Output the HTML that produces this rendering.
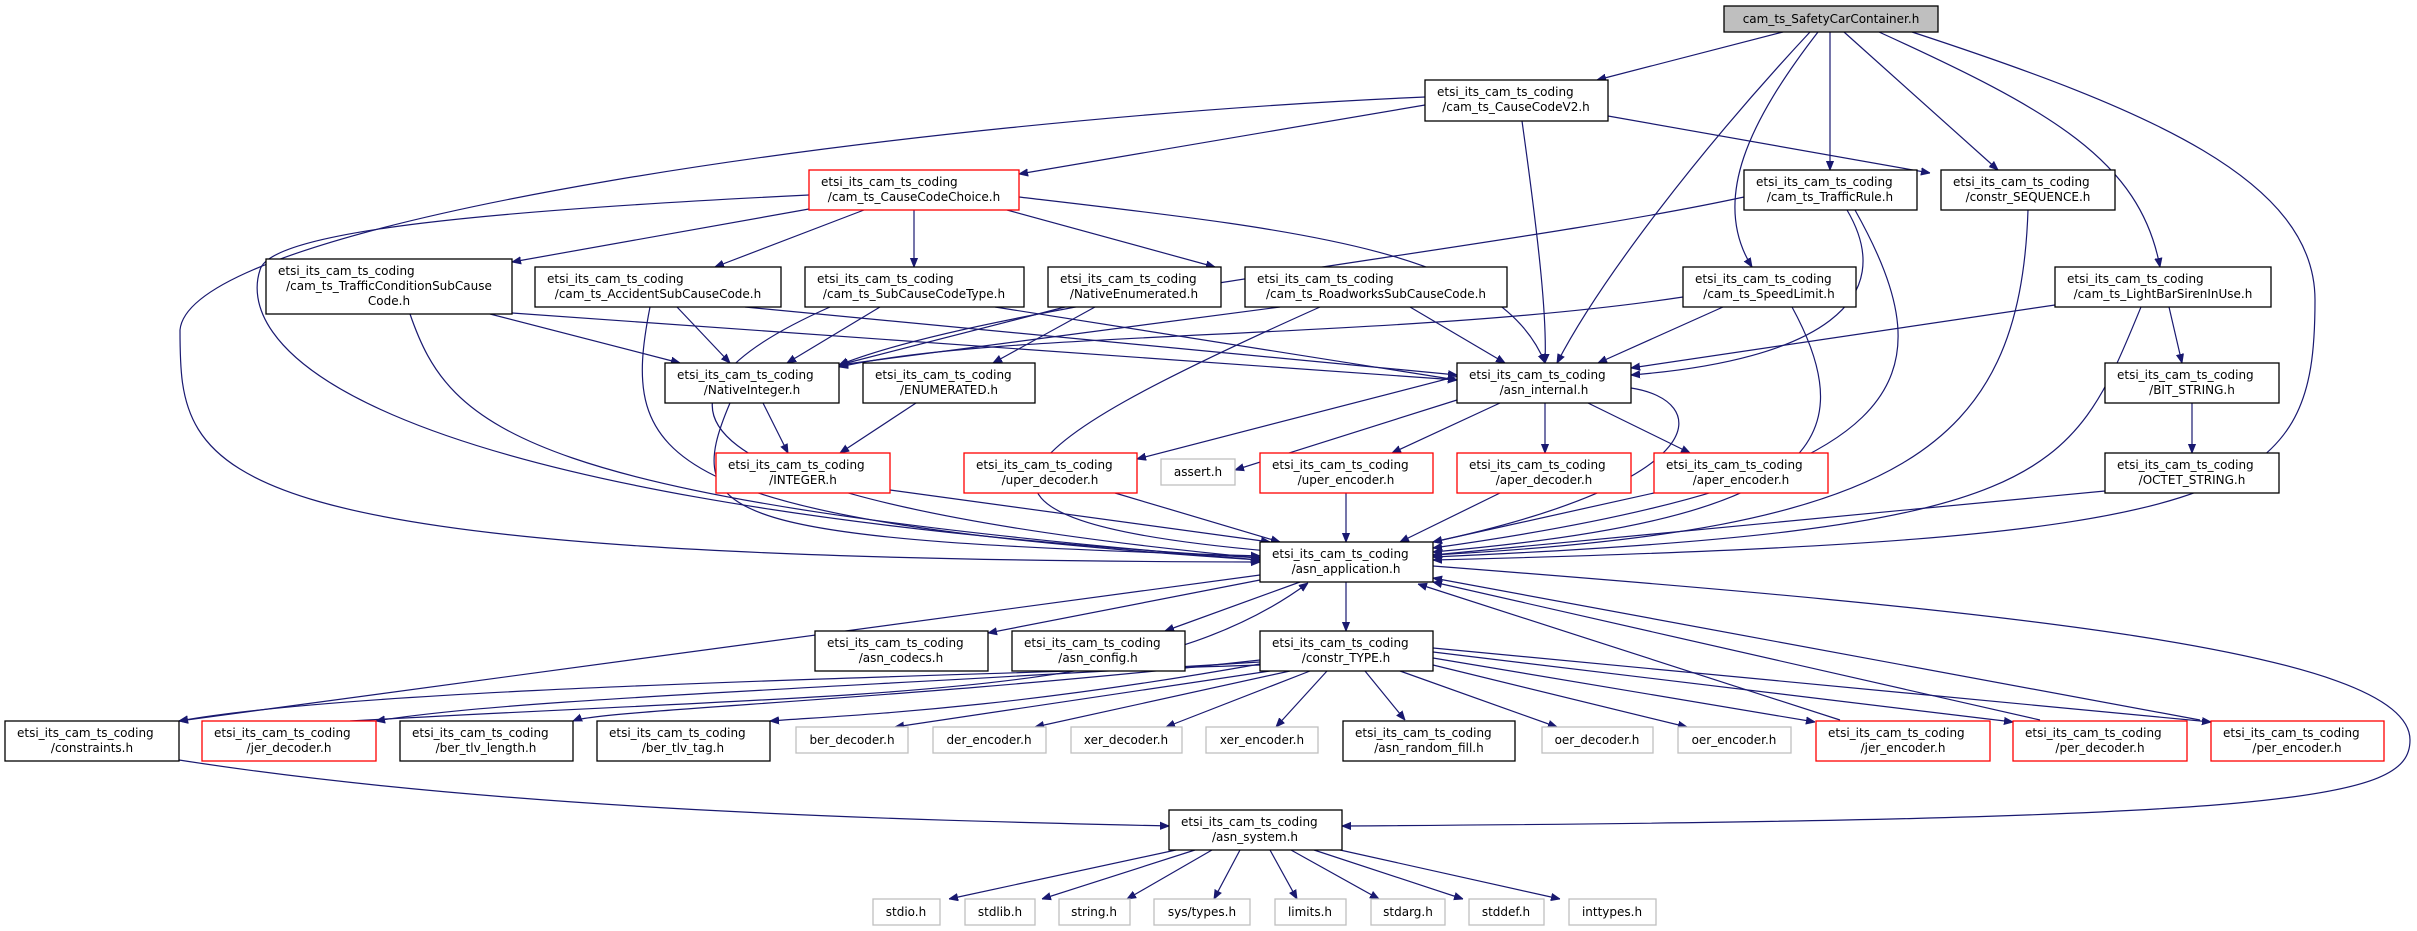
<!DOCTYPE html>
<html><head><meta charset="utf-8"><style>
html,body{margin:0;padding:0;background:#fff;}
svg{display:block;}
text{font-family:"DejaVu Sans","Liberation Sans",sans-serif;font-size:12px;fill:#000;text-anchor:middle;}
text.l{text-anchor:start;}
.b{fill:#fff;stroke:#000;stroke-width:1.3;}
.r{fill:#fff;stroke:#ff0000;stroke-width:1.3;}
.g{fill:#fff;stroke:#bfbfbf;stroke-width:1.3;}
.e path{fill:none;stroke:#191970;stroke-width:1.2;marker-end:url(#a);}
</style></head><body>
<svg width="2417" height="931" viewBox="0 0 2417 931" xmlns="http://www.w3.org/2000/svg">
<defs><marker id="a" viewBox="0 0 10 10" refX="10" refY="5" markerWidth="9" markerHeight="9" markerUnits="userSpaceOnUse" orient="auto"><path d="M0,1 L10,5 L0,9 z" fill="#191970" stroke="#191970"/></marker></defs>
<g class="e">
<path d="M1783,32 L1597,80"/>
<path d="M1810,32 C1700,150 1600,280 1557,363"/>
<path d="M1818,32 C1750,120 1710,200 1752,267"/>
<path d="M1830,32 L1830,170"/>
<path d="M1844,32 L1998,170"/>
<path d="M1879,32 C2050,110 2140,160 2160,267"/>
<path d="M1912,32 C2150,110 2315,180 2315,300 C2315,500 2250,540 1433,560"/>
<path d="M1425,105 L1019,174"/>
<path d="M1425,97 C900,120 190,220 180,330 C180,480 190,560 1260,562"/>
<path d="M1522,121 C1540,250 1547,320 1545,363"/>
<path d="M1608,116 L1930,173"/>
<path d="M809,209 L512,262"/>
<path d="M864,210 L715,267"/>
<path d="M914,210 L914,267"/>
<path d="M1007,210 L1215,267"/>
<path d="M1019,197 C1300,230 1500,250 1545,363"/>
<path d="M809,195 C500,210 270,230 260,270 C240,330 300,500 1260,558"/>
<path d="M490,314 L680,363"/>
<path d="M512,313 L1457,380"/>
<path d="M410,314 C450,430 520,500 1260,560"/>
<path d="M677,307 L730,363"/>
<path d="M745,307 L1457,375"/>
<path d="M650,307 C620,460 650,520 1260,560"/>
<path d="M880,307 L787,363"/>
<path d="M995,307 L1457,380"/>
<path d="M830,307 C620,400 650,500 1260,558"/>
<path d="M1065,307 L839,365"/>
<path d="M1095,307 L993,363"/>
<path d="M1280,307 L839,365"/>
<path d="M1410,307 L1505,363"/>
<path d="M1320,307 C1000,450 900,520 1280,552"/>
<path d="M1744,197 C1500,250 1000,300 839,365"/>
<path d="M1847,210 C1900,300 1820,360 1631,375"/>
<path d="M1855,210 C1950,380 1920,480 1433,548"/>
<path d="M1683,297 C1400,340 1000,330 839,367"/>
<path d="M1723,307 L1598,363"/>
<path d="M1792,307 C1870,450 1800,520 1433,552"/>
<path d="M2028,210 C2020,450 1900,530 1433,555"/>
<path d="M2055,305 L1631,368"/>
<path d="M2169,307 L2182,363"/>
<path d="M2141,307 C2070,480 2050,530 1433,557"/>
<path d="M2192,403 L2192,453"/>
<path d="M2105,491 L1433,555"/>
<path d="M763,403 L788,453"/>
<path d="M730,403 C680,520 720,540 1260,556"/>
<path d="M916,403 L840,453"/>
<path d="M890,490 L1270,542"/>
<path d="M1470,373 L1137,459"/>
<path d="M1457,400 L1235,470"/>
<path d="M1500,403 L1392,453"/>
<path d="M1545,403 L1545,453"/>
<path d="M1588,403 L1690,453"/>
<path d="M1631,388 C1710,400 1720,480 1433,542"/>
<path d="M1115,493 L1280,542"/>
<path d="M1346,493 L1346,542"/>
<path d="M1500,493 L1400,542"/>
<path d="M1654,493 L1433,542"/>
<path d="M1260,575 L179,721"/>
<path d="M1260,580 L988,633"/>
<path d="M1300,582 L1165,631"/>
<path d="M1346,582 L1346,631"/>
<path d="M1433,566 C2000,610 2410,650 2410,740 C2410,800 2300,820 1342,826"/>
<path d="M350,721 C900,690 1150,700 1308,583"/>
<path d="M1840,720 L1418,584"/>
<path d="M2040,720 L1433,582"/>
<path d="M2200,720 L1433,578"/>
<path d="M1260,665 C800,680 350,690 179,721"/>
<path d="M1260,662 C800,690 500,700 376,721"/>
<path d="M1260,660 C900,700 600,710 573,721"/>
<path d="M1260,664 C1000,710 850,715 770,721"/>
<path d="M1270,671 L895,727"/>
<path d="M1290,671 L1035,727"/>
<path d="M1310,671 L1166,727"/>
<path d="M1327,671 L1276,727"/>
<path d="M1365,671 L1405,720"/>
<path d="M1400,671 L1557,727"/>
<path d="M1433,665 L1687,727"/>
<path d="M1433,658 L1815,722"/>
<path d="M1433,652 L2013,722"/>
<path d="M1433,648 L2211,722"/>
<path d="M179,760 C500,810 900,820 1169,826"/>
<path d="M1176,850 L949,899"/>
<path d="M1195,850 L1042,899"/>
<path d="M1212,850 L1127,899"/>
<path d="M1240,850 L1214,899"/>
<path d="M1270,850 L1297,899"/>
<path d="M1291,850 L1379,899"/>
<path d="M1314,850 L1463,899"/>
<path d="M1340,850 L1560,899"/>
</g>
<rect x="1724" y="6" width="214" height="26" fill="#bfbfbf" stroke="#000" stroke-width="1.3"/><text x="1831" y="23">cam_ts_SafetyCarContainer.h</text>
<rect class="b" x="1425" y="80" width="183" height="41"/><text class="l" x="1437" y="96">etsi_its_cam_ts_coding</text><text x="1516" y="111">/cam_ts_CauseCodeV2.h</text>
<rect class="r" x="809" y="170" width="210" height="40"/><text class="l" x="821" y="186">etsi_its_cam_ts_coding</text><text x="914" y="201">/cam_ts_CauseCodeChoice.h</text>
<rect class="b" x="1744" y="170" width="173" height="40"/><text class="l" x="1756" y="186">etsi_its_cam_ts_coding</text><text x="1830" y="201">/cam_ts_TrafficRule.h</text>
<rect class="b" x="1941" y="170" width="174" height="40"/><text class="l" x="1953" y="186">etsi_its_cam_ts_coding</text><text x="2028" y="201">/constr_SEQUENCE.h</text>
<rect class="b" x="266" y="259" width="246" height="55"/><text class="l" x="278" y="275">etsi_its_cam_ts_coding</text><text x="389" y="290">/cam_ts_TrafficConditionSubCause</text><text x="389" y="305">Code.h</text>
<rect class="b" x="535" y="267" width="246" height="40"/><text class="l" x="547" y="283">etsi_its_cam_ts_coding</text><text x="658" y="298">/cam_ts_AccidentSubCauseCode.h</text>
<rect class="b" x="805" y="267" width="219" height="40"/><text class="l" x="817" y="283">etsi_its_cam_ts_coding</text><text x="914" y="298">/cam_ts_SubCauseCodeType.h</text>
<rect class="b" x="1048" y="267" width="173" height="40"/><text class="l" x="1060" y="283">etsi_its_cam_ts_coding</text><text x="1134" y="298">/NativeEnumerated.h</text>
<rect class="b" x="1245" y="267" width="262" height="40"/><text class="l" x="1257" y="283">etsi_its_cam_ts_coding</text><text x="1376" y="298">/cam_ts_RoadworksSubCauseCode.h</text>
<rect class="b" x="1683" y="267" width="173" height="40"/><text class="l" x="1695" y="283">etsi_its_cam_ts_coding</text><text x="1769" y="298">/cam_ts_SpeedLimit.h</text>
<rect class="b" x="2055" y="267" width="216" height="40"/><text class="l" x="2067" y="283">etsi_its_cam_ts_coding</text><text x="2163" y="298">/cam_ts_LightBarSirenInUse.h</text>
<rect class="b" x="665" y="363" width="174" height="40"/><text class="l" x="677" y="379">etsi_its_cam_ts_coding</text><text x="752" y="394">/NativeInteger.h</text>
<rect class="b" x="863" y="363" width="172" height="40"/><text class="l" x="875" y="379">etsi_its_cam_ts_coding</text><text x="949" y="394">/ENUMERATED.h</text>
<rect class="b" x="1457" y="363" width="174" height="40"/><text class="l" x="1469" y="379">etsi_its_cam_ts_coding</text><text x="1544" y="394">/asn_internal.h</text>
<rect class="b" x="2105" y="363" width="174" height="40"/><text class="l" x="2117" y="379">etsi_its_cam_ts_coding</text><text x="2192" y="394">/BIT_STRING.h</text>
<rect class="r" x="716" y="453" width="174" height="40"/><text class="l" x="728" y="469">etsi_its_cam_ts_coding</text><text x="803" y="484">/INTEGER.h</text>
<rect class="r" x="964" y="453" width="173" height="40"/><text class="l" x="976" y="469">etsi_its_cam_ts_coding</text><text x="1050" y="484">/uper_decoder.h</text>
<rect class="g" x="1161" y="459" width="74" height="26"/><text x="1198" y="476">assert.h</text>
<rect class="r" x="1260" y="453" width="173" height="40"/><text class="l" x="1272" y="469">etsi_its_cam_ts_coding</text><text x="1346" y="484">/uper_encoder.h</text>
<rect class="r" x="1457" y="453" width="174" height="40"/><text class="l" x="1469" y="469">etsi_its_cam_ts_coding</text><text x="1544" y="484">/aper_decoder.h</text>
<rect class="r" x="1654" y="453" width="174" height="40"/><text class="l" x="1666" y="469">etsi_its_cam_ts_coding</text><text x="1741" y="484">/aper_encoder.h</text>
<rect class="b" x="2105" y="453" width="174" height="40"/><text class="l" x="2117" y="469">etsi_its_cam_ts_coding</text><text x="2192" y="484">/OCTET_STRING.h</text>
<rect class="b" x="1260" y="542" width="173" height="40" stroke-width="2"/><text class="l" x="1272" y="558">etsi_its_cam_ts_coding</text><text x="1346" y="573">/asn_application.h</text>
<rect class="b" x="815" y="631" width="173" height="40"/><text class="l" x="827" y="647">etsi_its_cam_ts_coding</text><text x="901" y="662">/asn_codecs.h</text>
<rect class="b" x="1012" y="631" width="173" height="40"/><text class="l" x="1024" y="647">etsi_its_cam_ts_coding</text><text x="1098" y="662">/asn_config.h</text>
<rect class="b" x="1260" y="631" width="173" height="40"/><text class="l" x="1272" y="647">etsi_its_cam_ts_coding</text><text x="1346" y="662">/constr_TYPE.h</text>
<rect class="b" x="5" y="721" width="174" height="40"/><text class="l" x="17" y="737">etsi_its_cam_ts_coding</text><text x="92" y="752">/constraints.h</text>
<rect class="r" x="202" y="721" width="174" height="40"/><text class="l" x="214" y="737">etsi_its_cam_ts_coding</text><text x="289" y="752">/jer_decoder.h</text>
<rect class="b" x="400" y="721" width="173" height="40"/><text class="l" x="412" y="737">etsi_its_cam_ts_coding</text><text x="486" y="752">/ber_tlv_length.h</text>
<rect class="b" x="597" y="721" width="173" height="40"/><text class="l" x="609" y="737">etsi_its_cam_ts_coding</text><text x="683" y="752">/ber_tlv_tag.h</text>
<rect class="g" x="796" y="727" width="112" height="26"/><text x="852" y="744">ber_decoder.h</text>
<rect class="g" x="933" y="727" width="113" height="26"/><text x="989" y="744">der_encoder.h</text>
<rect class="g" x="1071" y="727" width="111" height="26"/><text x="1126" y="744">xer_decoder.h</text>
<rect class="g" x="1206" y="727" width="112" height="26"/><text x="1262" y="744">xer_encoder.h</text>
<rect class="b" x="1343" y="721" width="172" height="40"/><text class="l" x="1355" y="737">etsi_its_cam_ts_coding</text><text x="1429" y="752">/asn_random_fill.h</text>
<rect class="g" x="1542" y="727" width="111" height="26"/><text x="1597" y="744">oer_decoder.h</text>
<rect class="g" x="1678" y="727" width="113" height="26"/><text x="1734" y="744">oer_encoder.h</text>
<rect class="r" x="1816" y="721" width="174" height="40"/><text class="l" x="1828" y="737">etsi_its_cam_ts_coding</text><text x="1903" y="752">/jer_encoder.h</text>
<rect class="r" x="2013" y="721" width="174" height="40"/><text class="l" x="2025" y="737">etsi_its_cam_ts_coding</text><text x="2100" y="752">/per_decoder.h</text>
<rect class="r" x="2211" y="721" width="173" height="40"/><text class="l" x="2223" y="737">etsi_its_cam_ts_coding</text><text x="2297" y="752">/per_encoder.h</text>
<rect class="b" x="1169" y="810" width="173" height="40" stroke-width="2"/><text class="l" x="1181" y="826">etsi_its_cam_ts_coding</text><text x="1255" y="841">/asn_system.h</text>
<rect class="g" x="873" y="899" width="67" height="26"/><text x="906" y="916">stdio.h</text>
<rect class="g" x="965" y="899" width="70" height="26"/><text x="1000" y="916">stdlib.h</text>
<rect class="g" x="1059" y="899" width="71" height="26"/><text x="1094" y="916">string.h</text>
<rect class="g" x="1154" y="899" width="96" height="26"/><text x="1202" y="916">sys/types.h</text>
<rect class="g" x="1275" y="899" width="71" height="26"/><text x="1310" y="916">limits.h</text>
<rect class="g" x="1371" y="899" width="74" height="26"/><text x="1408" y="916">stdarg.h</text>
<rect class="g" x="1469" y="899" width="75" height="26"/><text x="1506" y="916">stddef.h</text>
<rect class="g" x="1569" y="899" width="87" height="26"/><text x="1612" y="916">inttypes.h</text>
</svg>
</body></html>
